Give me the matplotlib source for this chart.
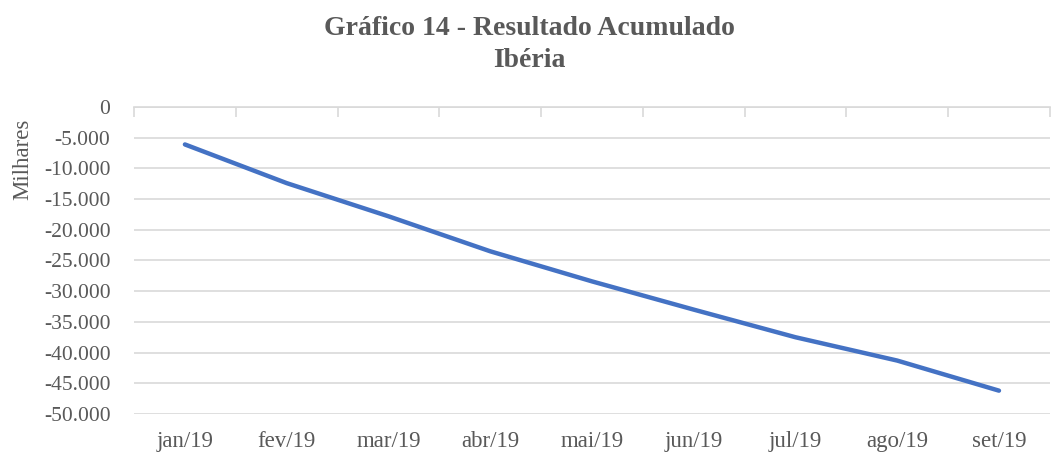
import numpy as np
import matplotlib.pyplot as plt
from matplotlib.ticker import FuncFormatter

meses = ["jan/19", "fev/19", "mar/19", "abr/19", "mai/19", "jun/19", "jul/19", "ago/19", "set/19"]
resultado = [-6100, -12400, -17800, -23500, -28400, -33000, -37500, -41300, -46200]

cinza = "#595959"
plt.rcParams['font.family'] = ['Liberation Serif', 'DejaVu Serif']

fig = plt.figure(figsize=(10.53, 4.58), dpi=100)
ax = fig.add_axes([0.1273, 0.0961, 0.8697, 0.6703])

x = np.arange(len(meses))
ax.plot(x, resultado, color="#4472C4", lw=3.2, solid_capstyle='round')

ax.set_xlim(-0.5, len(meses) - 0.5)
ax.set_ylim(-50000, 0)
ax.set_yticks(np.arange(-50000, 1, 5000))
ax.yaxis.set_major_formatter(FuncFormatter(lambda v, p: f"{v:,.0f}".replace(",", ".")))
ax.set_xticks(x)
ax.set_xticklabels(meses)
ax.set_xticks(np.arange(-0.5, len(meses)), minor=True)

ax.grid(axis='y', color="#d9d9d9", lw=1.2)
ax.set_axisbelow(True)
for s in ['left', 'right', 'bottom']:
    ax.spines[s].set_visible(False)
ax.spines['top'].set_color("#d9d9d9")
ax.spines['top'].set_linewidth(1.2)

ax.tick_params(axis='y', which='major', length=0, labelsize=15.5, labelcolor=cinza, pad=17)
ax.tick_params(axis='x', which='major', length=0, labelsize=16.5, labelcolor=cinza, pad=12)
ax.tick_params(axis='x', which='minor', bottom=False, top=True, direction='in',
               length=7, width=1.2, color="#d9d9d9")

ax.set_ylabel("Milhares", fontsize=16.5, color=cinza)
ax.yaxis.set_label_coords(-0.11, 0.83)

fig.text(0.503, 0.903, "Gráfico 14 - Resultado Acumulado\nIbéria", ha='center', va='center',
         fontsize=20, fontweight='bold', color=cinza, linespacing=1.35)

fig.savefig("out.png", dpi=100)
